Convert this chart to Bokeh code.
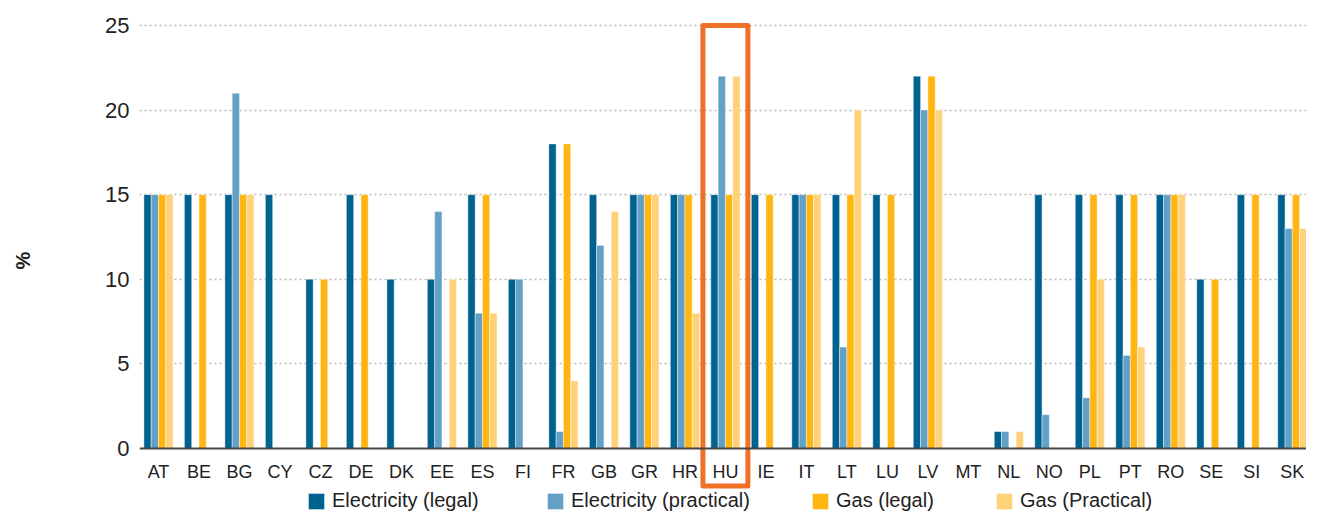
import math
from bokeh.plotting import figure
from bokeh.models import (ColumnDataSource, FixedTicker, Span, Legend, LegendItem, Range1d)
from bokeh.core.properties import value
from bokeh.embed import file_html
from bokeh.resources import INLINE

countries = ["AT", "BE", "BG", "CY", "CZ", "DE", "DK", "EE", "ES", "FI", "FR", "GB", "GR", "HR",
             "HU", "IE", "IT", "LT", "LU", "LV", "MT", "NL", "NO", "PL", "PT", "RO", "SE", "SI", "SK"]
elec_legal = [15, 15, 15, 15, 10, 15, 10, 10, 15, 10, 18, 15, 15, 15,
              15, 15, 15, 15, 15, 22, None, 1, 15, 15, 15, 15, 10, 15, 15]
elec_practical = [15, None, 21, None, None, None, None, 14, 8, 10, 1, 12, 15, 15,
                  22, None, 15, 6, None, 20, None, 1, 2, 3, 5.5, 15, None, None, 13]
gas_legal = [15, 15, 15, None, 10, 15, None, None, 15, None, 18, None, 15, 15,
             15, 15, 15, 15, 15, 22, None, None, None, 15, 15, 15, 10, 15, 15]
gas_practical = [15, None, 15, None, None, None, None, 10, 8, None, 4, 14, 15, 8,
                 22, None, 15, 20, None, 20, None, 1, None, 10, 6, 15, None, None, 13]
series_names = ["Electricity (legal)", "Electricity (practical)", "Gas (legal)", "Gas (Practical)"]
highlight = "HU"
y_ticks = [0, 5, 10, 15, 20, 25]

colors = ["#00628F", "#63A0C8", "#FFB612", "#FFD27A"]
FONT = "Liberation Sans"

p = figure(width=1306, height=513, output_backend="svg", toolbar_location=None,
           x_axis_type=None, x_range=Range1d(-0.469, 28.35), y_range=Range1d(-3.84, 26.06),
           min_border_left=139, min_border_right=0, min_border_top=7, min_border_bottom=0)
p.outline_line_color = None
p.background_fill_color = "white"
p.border_fill_color = "white"

# grid
p.xgrid.visible = False
p.ygrid.ticker = FixedTicker(ticks=[t for t in y_ticks if t > 0])
p.ygrid.grid_line_color = "#B8B8B8"
p.ygrid.grid_line_dash = "2 3"
p.ygrid.grid_line_width = 1.5

# y axis
yax = p.yaxis[0]
yax.ticker = FixedTicker(ticks=y_ticks)
yax.axis_line_color = None
yax.major_tick_line_color = None
yax.minor_tick_line_color = None
yax.major_label_standoff = 4
yax.major_label_text_font = FONT
yax.major_label_text_font_size = "22px"
yax.major_label_text_color = "#222222"
yax.axis_label = "%"
yax.axis_label_standoff = 68
yax.axis_label_text_font = FONT
yax.axis_label_text_font_size = "20px"
yax.axis_label_text_font_style = "bold"
yax.axis_label_text_color = "#222222"

xs = list(range(len(countries)))
bw = 0.18
offsets = [-1.5 * bw, -0.5 * bw, 0.5 * bw, 1.5 * bw]
all_series = [elec_legal, elec_practical, gas_legal, gas_practical]
renderers = []
for vals, off, col in zip(all_series, offsets, colors):
    xx = [x + off for x, v in zip(xs, vals) if v is not None]
    tt = [v for v in vals if v is not None]
    src = ColumnDataSource(dict(x=xx, top=tt))
    r = p.vbar(x="x", top="top", bottom=0, width=bw, source=src, fill_color=col,
               line_color="white", line_width=0.6, line_alpha=0.7)
    renderers.append(r)

# baseline
p.add_layout(Span(location=0, dimension="width", line_color="#444444", line_width=2))

# category labels
lab_src = ColumnDataSource(dict(x=xs, y=[-1.36] * len(xs), t=countries))
p.text(x="x", y="y", text="t", source=lab_src, text_align="center", text_baseline="middle",
       text_font=value(FONT), text_font_size="18px", text_color="#222222")

# highlight box
hi = countries.index(highlight)
p.quad(left=[hi - 0.555], right=[hi + 0.555], bottom=[-2.22], top=[25], fill_color=None,
       line_color="#EE7127", line_width=5, line_join="round")

# legends (one per item for exact placement)
leg_x = [167, 406, 671, 855]
for name, r, lx in zip(series_names, renderers, leg_x):
    lg = Legend(items=[LegendItem(label=name, renderers=[r])], location=(lx, 1),
                orientation="horizontal", padding=0, margin=0, spacing=0,
                glyph_width=20, glyph_height=20, label_standoff=6, label_height=20,
                label_text_font=FONT, label_text_font_size="20px", label_text_color="#222222",
                border_line_color=None, background_fill_alpha=0)
    p.add_layout(lg, "center")

open("out.html", "w").write(file_html(p, INLINE))
